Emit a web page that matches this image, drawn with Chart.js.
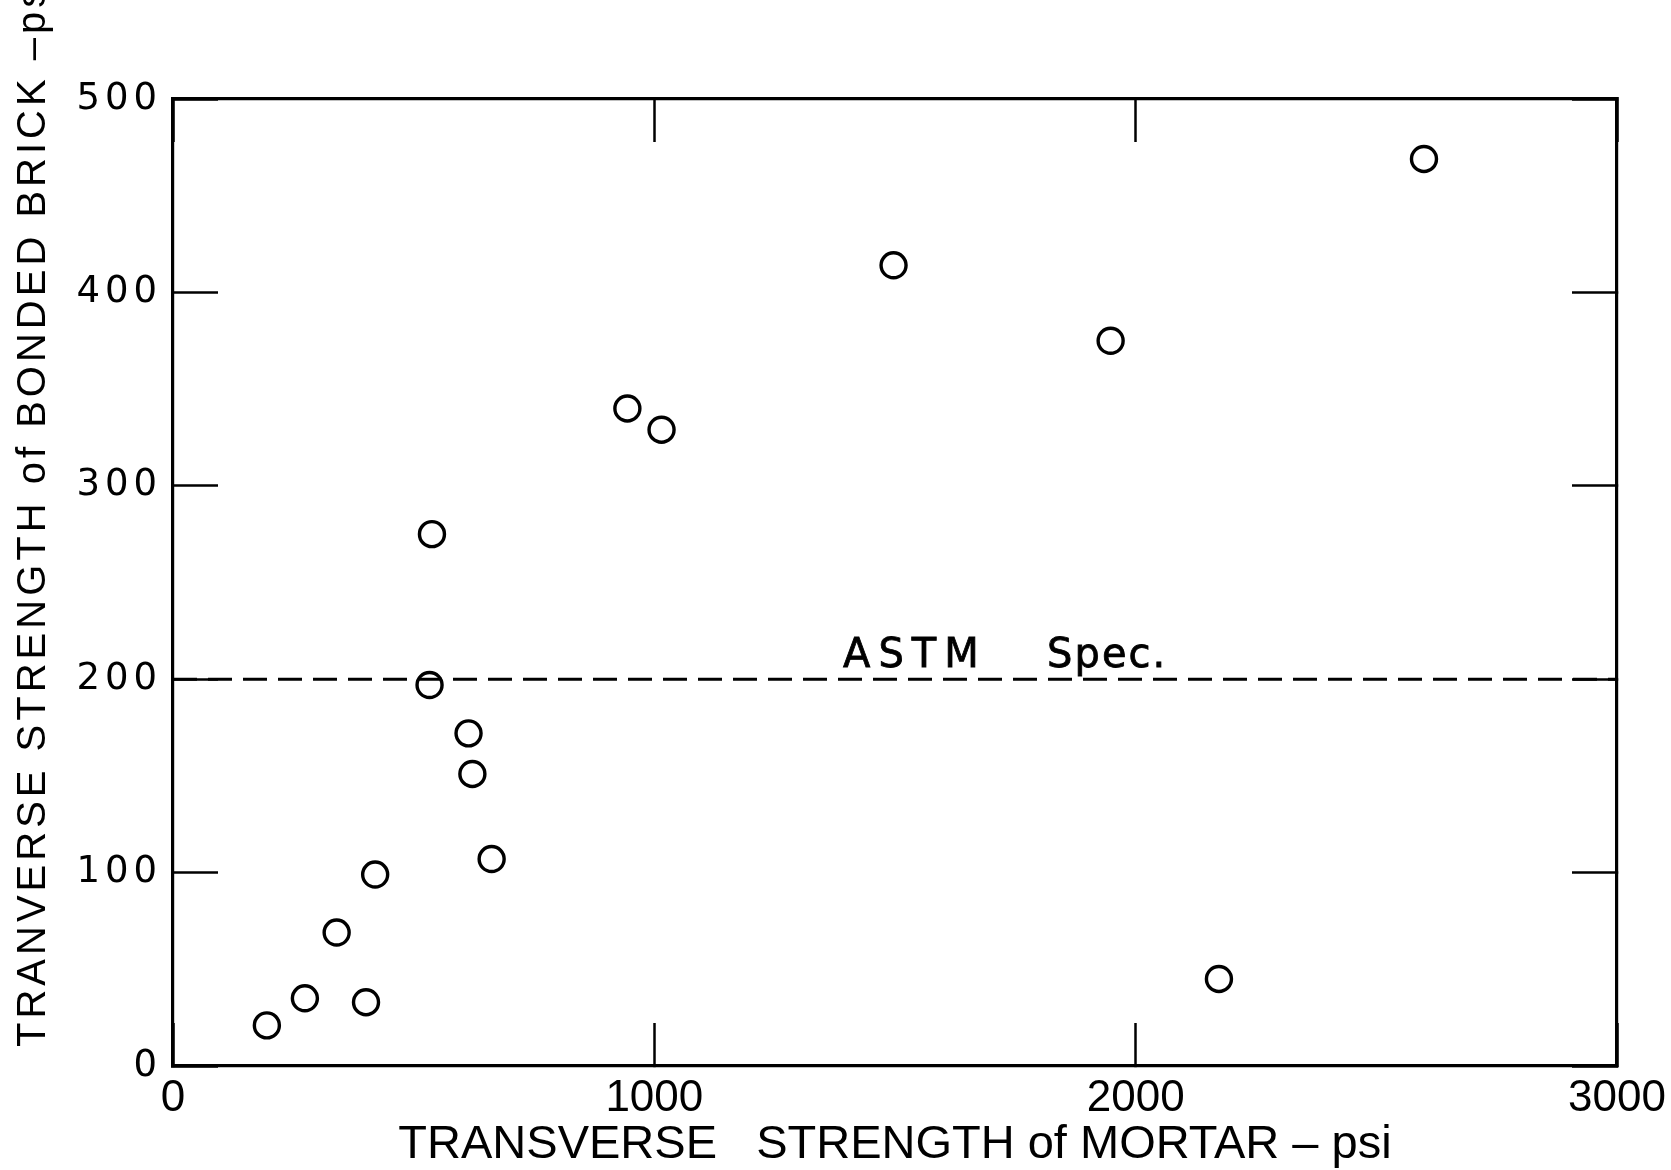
<!DOCTYPE html>
<html>
<head>
<meta charset="utf-8">
<script src="https://cdn.jsdelivr.net/npm/chart.js@4.4.0/dist/chart.umd.min.js"></script>
<style>
  html, body { margin: 0; padding: 0; background: #fff; }
  #wrap { width: 1671px; height: 1170px; }
</style>
</head>
<body>
<div id="wrap"><canvas id="c"></canvas></div>
<script>
// transverse strength of mortar (x) vs bonded brick (y), psi
const mortarPsi = [195, 274, 340, 401, 420, 533, 538, 614, 622, 662, 944, 1015, 1497, 1948, 2173, 2599];
const brickPsi  = [21,  35,  69,  33,  99,  197, 275, 172, 151, 107, 340, 329,  414,  375,  45,   469];
const astmSpec = 200;

const xTickValues = [0, 1000, 2000, 3000];
const xTickLabels = ['0', '1000', '2000', '3000'];
const yTickValues = [0, 100, 200, 300, 400, 500];
const yTickLabels = ['0', '100', '200', '300', '400', '500'];

const BLACK = '#000';
const SANS = '"Liberation Sans", Arial, sans-serif';
const WIDE = '"DejaVu Sans", Verdana, sans-serif';

// text that is not an axis label: y title (runs off the top) and the spec note
const paperText = {
  id: 'paperText',
  afterDatasetsDraw(chart) {
    // only the left y tick labels (ticks.z = 1) are drawn after this -> wide digits
    chart.ctx.letterSpacing = '5px';
  },
  afterDraw(chart) {
    const { ctx, scales: { x, y } } = chart;
    ctx.letterSpacing = '0px';
    ctx.save();
    ctx.fillStyle = BLACK;

    // y axis title
    ctx.translate(34, 1047);
    ctx.rotate(-Math.PI / 2);
    ctx.font = '40px ' + SANS;
    ctx.letterSpacing = '4px';
    ctx.textAlign = 'left';
    ctx.textBaseline = 'middle';
    ctx.fillText('TRANVERSE STRENGTH of BONDED BRICK \u2013psi', 0, 0);
    ctx.restore();

    // ASTM Spec. above the dashed line
    ctx.save();
    ctx.fillStyle = BLACK;
    ctx.strokeStyle = BLACK;
    ctx.lineWidth = 0.8;
    ctx.font = '40px ' + WIDE;
    ctx.textAlign = 'left';
    ctx.textBaseline = 'alphabetic';
    const by = y.getPixelForValue(206.5);
    ctx.letterSpacing = '8px';
    ctx.fillText('ASTM', x.getPixelForValue(1392), by);
    ctx.strokeText('ASTM', x.getPixelForValue(1392), by);
    ctx.letterSpacing = '2px';
    ctx.fillText('Spec.', x.getPixelForValue(1816), by);
    ctx.strokeText('Spec.', x.getPixelForValue(1816), by);
    ctx.restore();
  }
};

const frame = { display: true, width: 3.2, color: BLACK };
const noSidePad = s => { s.paddingLeft = 0; s.paddingRight = 0; };

new Chart(document.getElementById('c'), {
  data: {
    datasets: [
      {
        type: 'scatter',
        data: mortarPsi.map((v, i) => ({ x: v, y: brickPsi[i] })),
        pointStyle: 'circle',
        pointRadius: 12.5,
        pointBorderWidth: 3.4,
        pointBorderColor: BLACK,
        pointBackgroundColor: 'rgba(0,0,0,0)',
        showLine: false
      },
      {
        type: 'line',
        data: [{ x: 0, y: astmSpec }, { x: 3000, y: astmSpec }],
        borderColor: BLACK,
        borderWidth: 3,
        borderDash: [24, 11],
        pointRadius: 0,
        fill: false
      }
    ]
  },
  options: {
    responsive: true,
    maintainAspectRatio: false,
    animation: false,
    layout: { padding: { top: 99, right: 54, left: 0, bottom: 0 } },
    plugins: { legend: { display: false }, tooltip: { enabled: false } },
    scales: {
      x: {
        type: 'linear', position: 'bottom', min: 0, max: 3000,
        afterBuildTicks: s => { s.ticks = xTickValues.map(v => ({ value: v })); },
        afterFit: s => { s.height = 104; noSidePad(s); },
        grid: { drawOnChartArea: false, drawTicks: true, tickLength: -43, tickWidth: 2.5, tickColor: BLACK },
        border: frame,
        ticks: {
          padding: 49, color: BLACK, maxRotation: 0, autoSkip: false,
          font: { family: SANS, size: 44 },
          callback: (v, i) => xTickLabels[i]
        },
        title: {
          display: true, text: 'TRANSVERSE   STRENGTH of MORTAR \u2013 psi', color: BLACK,
          font: { family: SANS, size: 47, lineHeight: 1 }, padding: { top: 0, bottom: 1 }
        }
      },
      x2: {
        type: 'linear', position: 'top', min: 0, max: 3000,
        afterBuildTicks: s => { s.ticks = xTickValues.map(v => ({ value: v })); },
        afterFit: s => { s.height = 0; noSidePad(s); },
        grid: { drawOnChartArea: false, drawTicks: true, tickLength: -43, tickWidth: 2.5, tickColor: BLACK },
        border: frame,
        ticks: { display: false }
      },
      y: {
        type: 'linear', position: 'left', min: 0, max: 500,
        afterBuildTicks: s => { s.ticks = yTickValues.map(v => ({ value: v })); },
        afterFit: s => { s.width = 173; },
        grid: { drawOnChartArea: false, drawTicks: true, tickLength: -45, tickWidth: 2.5, tickColor: BLACK },
        border: frame,
        ticks: {
          z: 1, padding: 56, color: BLACK, autoSkip: false,
          font: { family: WIDE, size: 37 },
          callback: (v, i) => yTickLabels[i]
        }
      },
      y2: {
        type: 'linear', position: 'right', min: 0, max: 500,
        afterBuildTicks: s => { s.ticks = yTickValues.map(v => ({ value: v })); },
        afterFit: s => { s.width = 0; },
        grid: { drawOnChartArea: false, drawTicks: true, tickLength: -45, tickWidth: 2.5, tickColor: BLACK },
        border: frame,
        ticks: { display: false }
      }
    }
  },
  plugins: [paperText]
});
</script>
</body>
</html>
